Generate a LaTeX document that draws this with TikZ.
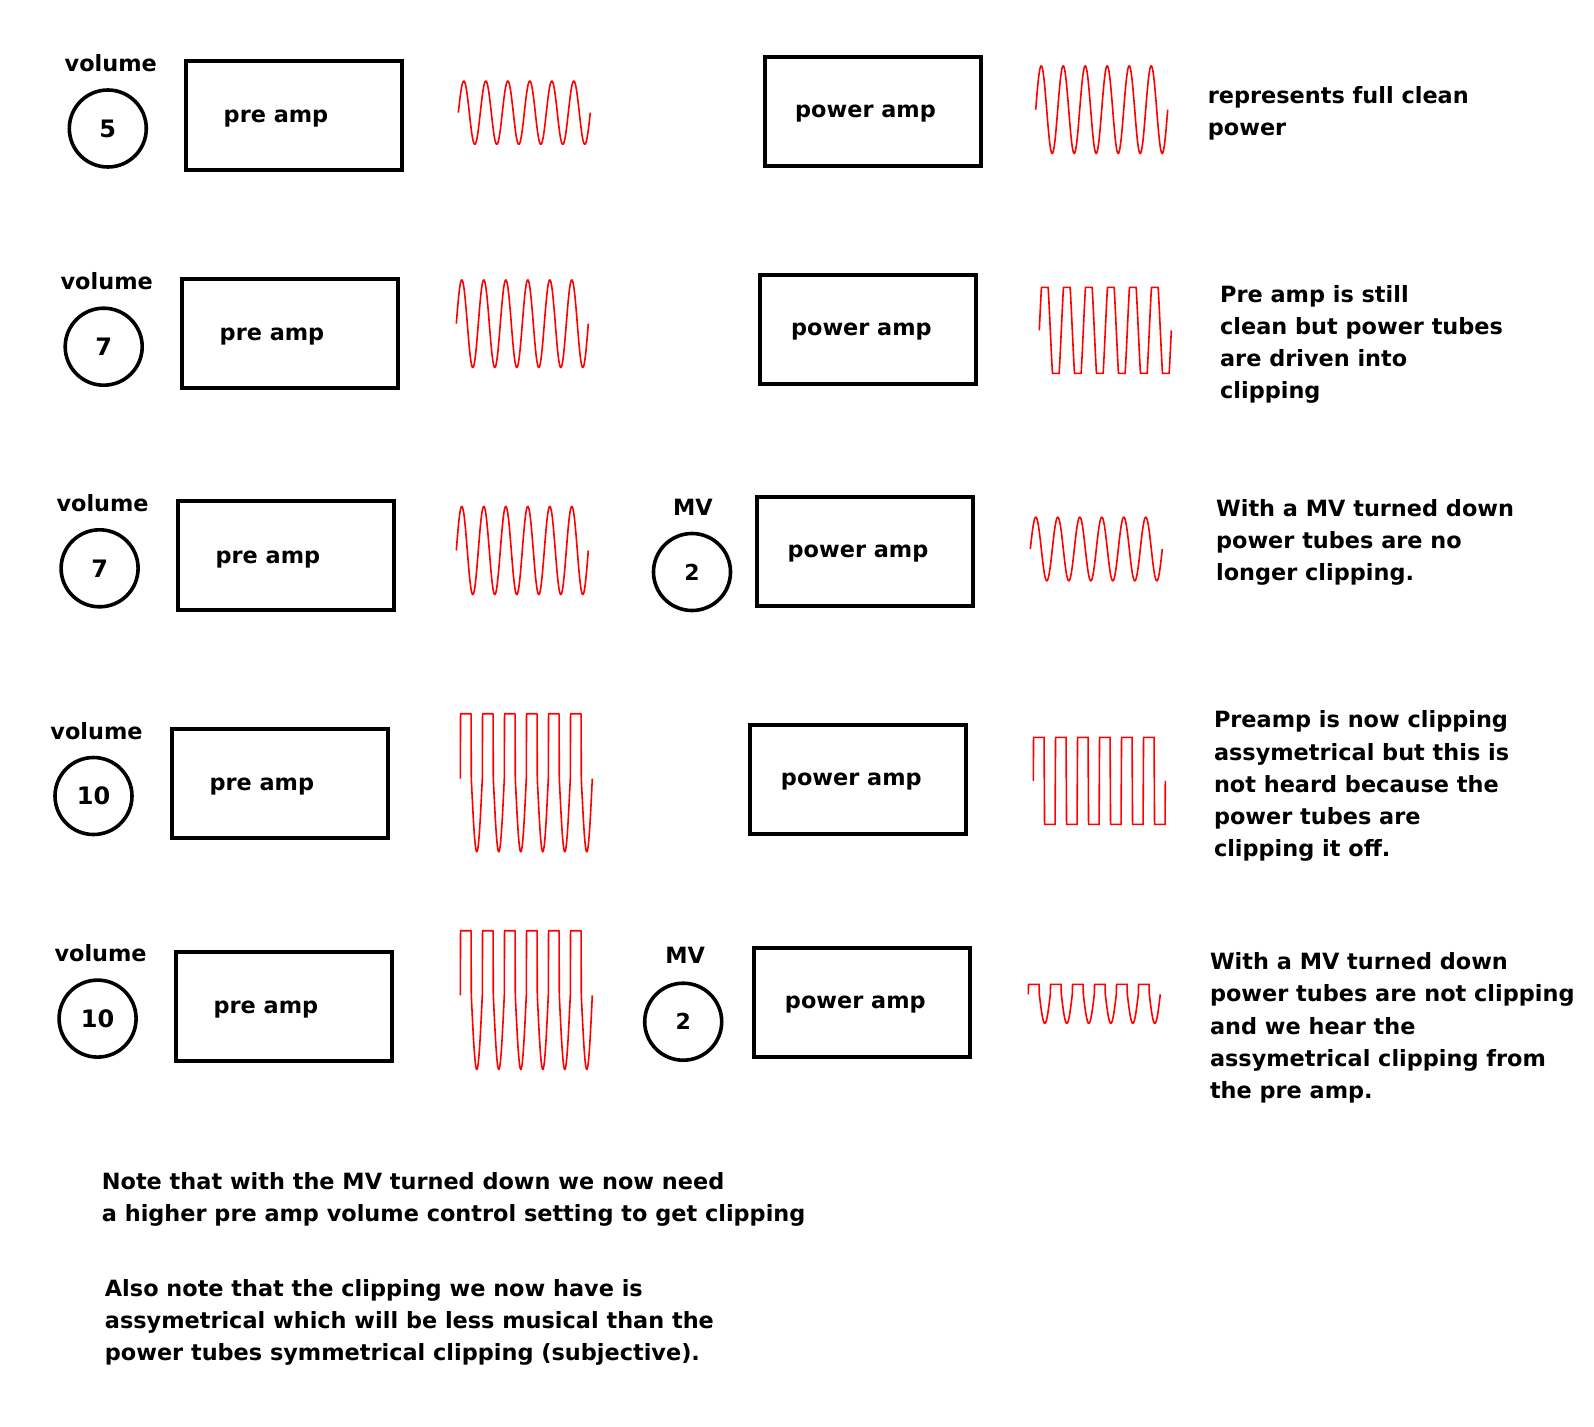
\documentclass[tikz,border=0pt]{standalone}
\usepackage{fontspec}
\setmainfont{DejaVu Sans}
\usetikzlibrary{calc}

\tikzset{
	declare function={
		sinw(\t)=sin(\t*16.3636);
		cleanw(\t,\va)=\va*sinw(\t);
		clipw(\t,\va,\vc)=max(-\vc,min(\vc,\va*sinw(\t)));
		asymw(\t,\vc,\vb)=(sinw(\t)>0) ? min(900*sinw(\t),\vc) : \vb*sinw(\t);
	}
}

\begin{document}
\begin{tikzpicture}[x=1pt,y=-1pt,
		txt/.style={inner sep=0,font=\fontsize{22.4}{32.2}\selectfont\bfseries},
		note/.style={txt,anchor=base west,align=left},
		knob/.style={draw,circle,line width=3.6pt,minimum size=77pt,inner sep=0,
			font=\fontsize{24}{28}\selectfont\bfseries},
		amp/.style={draw,line width=4pt,minimum width=216pt,minimum height=109pt,inner sep=0},
		wave/.style={red,line width=1.6pt}]
	\fill[white] (0,0) rectangle (1594,1426);

	% row 1 : full clean power
	\node[knob] (k1) at (107.8,128.5) {5};
	\node[txt,anchor=base] (v1) at ($(k1.center)+(3,-57)$) {volume};
	\node[amp] (pre1) at (294,115.5) {};
	\node[txt,anchor=base] (tp1) at ($(pre1.center)+(-18,7.5)$) {pre amp};
	\node[amp] (pow1) at (872.5,111.4) {};
	\node[txt,anchor=base] (tw1) at ($(pow1.center)+(-7,6)$) {power amp};
	\draw[wave] plot[domain=0:132,samples=529] ({458.3+\x},{112.7-cleanw(\x,31.6)});
	\draw[wave] plot[domain=0:132,samples=529] ({1035.7+\x},{109.7-cleanw(\x,43.7)});
	% base of a note = baseline of its last line
	\node[note] (d1) at (1207.7,135.8) {represents full clean\\power};

	% row 2 : power tubes clipping
	\node[knob] (k2) at (103.7,346.7) {7};
	\node[txt,anchor=base] (v2) at ($(k2.center)+(3,-57)$) {volume};
	\node[amp] (pre2) at (290,333) {};
	\node[txt,anchor=base] (tp2) at ($(pre2.center)+(-18,7.5)$) {pre amp};
	\node[amp] (pow2) at (868.4,329) {};
	\node[txt,anchor=base] (tw2) at ($(pow2.center)+(-7,6)$) {power amp};
	\draw[wave] plot[domain=0:132,samples=529] ({456.3+\x},{323.7-cleanw(\x,43.7)});
	\draw[wave] plot[domain=0:132,samples=529] ({1039.3+\x},{330.3-clipw(\x,75,43)});
	\node[note] (d2) at (1219.9,398.6) {Pre amp is still\\clean but power tubes\\are driven into\\clipping};

	% row 3 : master volume down
	\node[knob] (k3) at (99.6,568.3) {7};
	\node[txt,anchor=base] (v3) at ($(k3.center)+(3,-57)$) {volume};
	\node[amp] (pre3) at (285.9,555.7) {};
	\node[txt,anchor=base] (tp3) at ($(pre3.center)+(-18,7.5)$) {pre amp};
	\node[knob,font=\fontsize{22}{26}\selectfont\bfseries] (mv3) at (692,572) {2};
	\node[txt,anchor=base] (m3) at ($(mv3.center)+(1,-56.5)$) {MV};
	\node[amp] (pow3) at (865,551.5) {};
	\node[txt,anchor=base] (tw3) at ($(pow3.center)+(-7,6)$) {power amp};
	\draw[wave] plot[domain=0:132,samples=529] ({456.3+\x},{550.5-cleanw(\x,44)});
	\draw[wave] plot[domain=0:132,samples=529] ({1030.3+\x},{549-cleanw(\x,31.8)});
	\node[note] (d3) at (1215.9,580.7) {With a MV turned down\\power tubes are no\\longer clipping.};

	% row 4 : pre amp clipping
	\node[knob] (k4) at (93.5,796) {10};
	\node[txt,anchor=base] (v4) at ($(k4.center)+(3,-57)$) {volume};
	\node[amp] (pre4) at (279.8,783.4) {};
	\node[txt,anchor=base] (tp4) at ($(pre4.center)+(-18,7.5)$) {pre amp};
	\node[amp] (pow4) at (858.3,779.3) {};
	\node[txt,anchor=base] (tw4) at ($(pow4.center)+(-7,6)$) {power amp};
	\draw[wave] plot[domain=0:132,samples=529] ({460.3+\x},{778.7-asymw(\x,65,73)});
	\draw[wave] plot[domain=0:132,samples=529] ({1033.3+\x},{780.8-clipw(\x,2000,43.5)});
	\node[note] (d4) at (1213.8,856.6) {Preamp is now clipping\\assymetrical but this is\\not heard because the\\power tubes are\\clipping it off.};

	% row 5 : pre amp clipping, MV down
	\node[knob] (k5) at (97.6,1018.6) {10};
	\node[txt,anchor=base] (v5) at ($(k5.center)+(3,-57)$) {volume};
	\node[amp] (pre5) at (283.9,1006) {};
	\node[txt,anchor=base] (tp5) at ($(pre5.center)+(-18,7.5)$) {pre amp};
	\node[knob,font=\fontsize{22}{26}\selectfont\bfseries] (mv5) at (683.2,1021.7) {2};
	\node[txt,anchor=base] (m5) at ($(mv5.center)+(2,-58)$) {MV};
	\node[amp] (pow5) at (862.3,1002) {};
	\node[txt,anchor=base] (tw5) at ($(pow5.center)+(-7,6)$) {power amp};
	\draw[wave] plot[domain=0:132,samples=529] ({460.3+\x},{995.3-asymw(\x,64.6,74)});
	\draw[wave] plot[domain=0:132,samples=529] ({1028.3+\x},{994.3-asymw(\x,10,29)});
	\node[note] (d5) at (1209.8,1098.5) {With a MV turned down\\power tubes are not clipping\\and we hear the\\assymetrical clipping from\\the pre amp.};

	% notes
	\node[note] (n1) at (101.7,1221.5) {Note that with the MV turned down we now need\\a higher pre amp volume control setting to get clipping};
	\node[note] (n2) at (104.7,1360.4) {Also note that the clipping we now have is\\assymetrical which will be less musical than the\\power tubes symmetrical clipping (subjective).};
\end{tikzpicture}
\end{document}
